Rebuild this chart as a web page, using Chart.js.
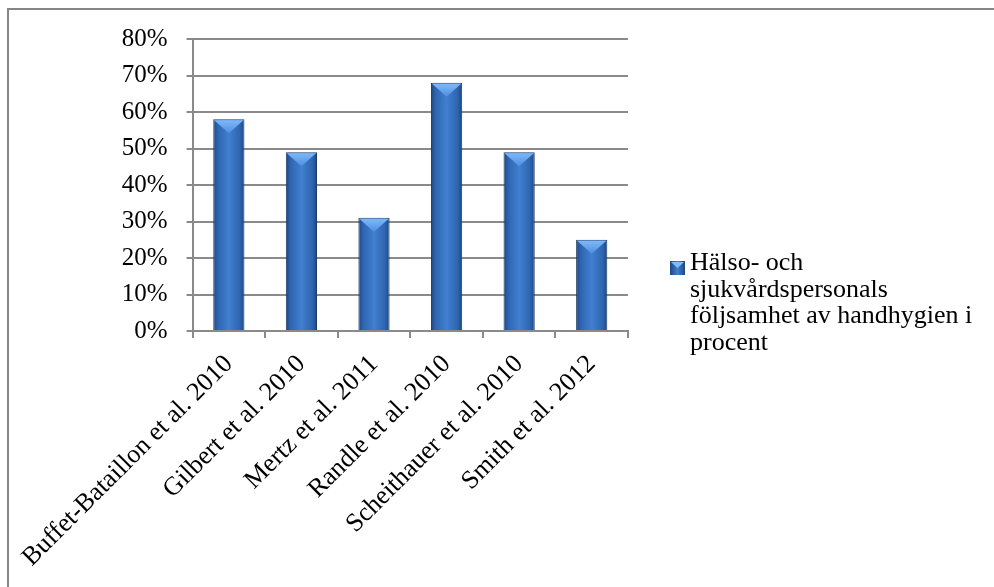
<!DOCTYPE html>
<html>
<head>
<meta charset="utf-8">
<script src="https://cdn.jsdelivr.net/npm/chart.js@4.4.0/dist/chart.umd.min.js"></script>
<style>
  html, body { margin: 0; padding: 0; background: #fff; }
  #wrap { width: 994px; height: 587px; }
</style>
</head>
<body>
<div id="wrap"><canvas id="chart" width="994" height="587"></canvas></div>
<script>
// chart data
const studies = ['Buffet-Bataillon et al. 2010', 'Gilbert et al. 2010', 'Mertz et al. 2011',
  'Randle et al. 2010', 'Scheithauer et al. 2010', 'Smith et al. 2012'];
const compliance = [58, 49, 31, 68, 49, 25];
const seriesLabel = 'Hälso- och sjukvårdspersonals följsamhet av handhygien i procent';
const yTicks = [0, 10, 20, 30, 40, 50, 60, 70, 80];

const FONT = "'Liberation Serif', 'Times New Roman', serif";
const GRID = '#8a8a8a';
const BAR_PCT = 0.43;

// horizontal shading across each bar, from the x scale
function barFill(ctx) {
  const chart = ctx.chart;
  const xs = chart.scales.x;
  if (!xs || !chart.chartArea) return '#3a75c4';
  const cx = xs.getPixelForValue(ctx.dataIndex);
  const half = xs.width / studies.length * BAR_PCT / 2;
  const g = chart.ctx.createLinearGradient(cx - half, 0, cx + half, 0);
  g.addColorStop(0, '#1d4682');
  g.addColorStop(0.15, '#2e65b0');
  g.addColorStop(0.5, '#417fd0');
  g.addColorStop(0.85, '#2e65b0');
  g.addColorStop(1, '#1d4682');
  return g;
}

// light slanted cap on top of each bar
const bevelPlugin = {
  id: 'bevel',
  afterDatasetsDraw(chart) {
    const c = chart.ctx;
    chart.getDatasetMeta(0).data.forEach(el => {
      const w = el.width, l = el.x - w / 2, r = el.x + w / 2, t = el.y;
      const d = w * 0.45;
      const g = c.createLinearGradient(0, t, 0, t + d);
      g.addColorStop(0, '#80bcfa');
      g.addColorStop(1, '#4f8ee2');
      c.save();
      c.beginPath();
      c.moveTo(l + 1, t + 1);
      c.lineTo(r - 1, t + 1);
      c.lineTo(el.x, t + d);
      c.closePath();
      c.fillStyle = g;
      c.fill();
      c.restore();
    });
  }
};

// outer frame + legend with wrapped text
const framePlugin = {
  id: 'frame',
  afterDraw(chart) {
    const c = chart.ctx;
    c.save();
    c.strokeStyle = '#868686';
    c.lineWidth = 2;
    c.strokeRect(8, 9, 1000, 600);

    // legend
    const x0 = 670, y0 = 261, size = 15;
    const mg = c.createLinearGradient(x0, 0, x0 + size, 0);
    mg.addColorStop(0, '#1d4682');
    mg.addColorStop(0.5, '#417fd0');
    mg.addColorStop(1, '#1d4682');
    c.fillStyle = mg;
    c.fillRect(x0, y0, size, size - 1);
    c.fillStyle = '#80bcfa';
    c.beginPath();
    c.moveTo(x0 + 1, y0 + 1);
    c.lineTo(x0 + size - 1, y0 + 1);
    c.lineTo(x0 + size / 2, y0 + 7);
    c.closePath();
    c.fill();

    c.font = '26px ' + FONT;
    c.fillStyle = '#000';
    c.textBaseline = 'alphabetic';
    const words = chart.data.datasets[0].label.split(' ');
    const maxW = 290;
    const lines = [];
    let line = '';
    words.forEach(w => {
      const test = line ? line + ' ' + w : w;
      if (c.measureText(test).width > maxW && line) {
        lines.push(line);
        line = w;
      } else {
        line = test;
      }
    });
    if (line) lines.push(line);
    lines.forEach((t, i) => c.fillText(t, 690, 270 + i * 26.7));
    c.restore();
  }
};

new Chart(document.getElementById('chart'), {
  type: 'bar',
  data: {
    labels: studies,
    datasets: [{
      label: seriesLabel,
      data: compliance,
      backgroundColor: barFill,
      borderColor: '#1c3a68',
      borderWidth: 1,
      barPercentage: BAR_PCT,
      categoryPercentage: 1
    }]
  },
  options: {
    responsive: false,
    animation: false,
    layout: { padding: { left: 0, top: 39, right: 366, bottom: 0 } },
    plugins: {
      legend: { display: false },
      tooltip: { enabled: false }
    },
    scales: {
      x: {
        afterFit(scale) { scale.height = 256; },
        grid: { drawOnChartArea: false, drawTicks: true, tickLength: 7, color: GRID, lineWidth: 2 },
        border: { color: GRID, width: 2 },
        ticks: {
          color: '#000',
          font: { family: FONT, size: 26 },
          minRotation: 45,
          maxRotation: 45,
          autoSkip: false,
          padding: 11
        }
      },
      y: {
        min: 0,
        max: 80,
        afterFit(scale) { scale.width = 192; },
        afterBuildTicks(scale) { scale.ticks = yTicks.map(v => ({ value: v })); },
        grid: { color: GRID, lineWidth: 2, tickLength: 6 },
        border: { color: GRID, width: 2 },
        ticks: {
          color: '#000',
          font: { family: FONT, size: 25 },
          padding: 19,
          callback: v => v + '%'
        }
      }
    }
  },
  plugins: [bevelPlugin, framePlugin]
});
</script>
</body>
</html>
